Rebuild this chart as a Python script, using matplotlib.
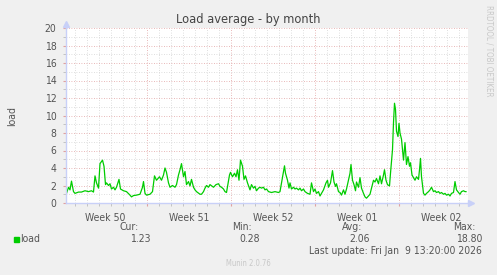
import matplotlib
matplotlib.use("Agg")
import matplotlib.pyplot as plt
from matplotlib.ticker import MultipleLocator, NullFormatter

# hours since Mon Dec 8 2025 00:00 (start of week 50)
hours = [7, 11, 14, 17, 21, 24, 31, 37, 44, 51, 57, 61, 64, 67, 71, 74, 79, 82, 85, 87,
         91, 94, 97, 101, 104, 107, 112, 115, 121, 127, 134, 137, 141, 147, 154, 159, 161, 164, 167, 174,
         179, 183, 187, 193, 197, 201, 204, 207, 211, 214, 219, 224, 227, 231, 234, 237, 241, 244, 247, 251,
         254, 257, 261, 264, 267, 274, 277, 281, 284, 287, 291, 294, 301, 306, 311, 314, 317, 321, 324, 327,
         333, 335, 339, 343, 346, 349, 352, 355, 359, 362, 365, 369, 372,
         374, 377, 381, 384, 387, 391, 394, 397, 401, 404, 407, 411, 417, 424, 431, 434, 437, 441, 443, 445,
         449, 452, 454, 457, 461, 464, 467, 471, 474, 477, 481, 484, 489, 494, 497, 501, 504, 507, 511, 514,
         517, 521, 526, 529, 531, 535, 539, 542, 545, 547, 551, 554, 557, 561, 564, 567, 571, 574, 576, 579,
         582, 585, 587, 591, 594, 597, 601, 604, 607, 611, 614, 617, 621, 624, 627, 631, 634, 637, 641, 643,
         646, 649, 653, 655, 659, 661, 663, 665, 667, 670, 672, 674, 677, 681, 684, 687, 690, 693, 695, 698,
         701, 704, 707, 711, 713, 715, 717, 721, 724, 727, 731, 734, 737, 741, 744, 747, 751, 754, 757, 761,
         764, 767, 771, 774, 777, 781, 784, 787, 791, 794, 797, 801, 804, 806]
load = [1.1, 1.8, 1.5, 2.5, 1.3, 1.1, 1.25, 1.25, 1.4, 1.3, 1.4, 1.25, 3.1, 2.3, 1.7, 4.5, 4.9, 4.2, 2.1, 2.3,
        2.0, 2.2, 1.6, 1.8, 1.5, 1.8, 2.7, 1.6, 1.4, 1.3, 0.9, 0.7, 0.85, 0.9, 1.0, 1.8, 2.45, 1.1, 0.9, 1.0,
        1.3, 3.1, 2.6, 3.0, 2.6, 3.2, 4.0, 3.5, 2.3, 1.8, 2.0, 1.8, 2.1, 3.2, 3.8, 4.5, 3.0, 3.6, 2.1, 2.45,
        1.95, 2.7, 1.8, 1.5, 1.3, 1.0, 1.0, 1.3, 1.7, 2.0, 1.8, 2.1, 1.8, 2.1, 2.2, 1.9, 1.8, 1.6, 1.3, 1.2,
        3.2, 3.5, 3.0, 3.4, 3.0, 3.8, 2.6, 4.9, 4.2, 2.7, 3.1, 2.3, 1.8,
        1.5, 2.1, 1.7, 1.9, 1.4, 1.7, 1.8, 1.7, 1.8, 1.5, 1.6, 1.3, 1.2, 1.3, 1.2, 1.3, 2.3, 3.6, 4.25, 3.4,
        2.6, 1.7, 2.3, 1.6, 1.8, 1.6, 1.7, 1.5, 1.7, 1.4, 1.6, 1.3, 1.1, 1.0, 2.3, 1.3, 1.6, 1.1, 1.3, 0.8,
        1.1, 1.5, 2.3, 2.6, 1.8, 2.3, 3.7, 2.4, 1.9, 2.2, 1.3, 1.2, 0.9, 1.5, 1.0, 1.6, 2.6, 3.4, 4.4, 2.6,
        2.1, 1.4, 2.4, 1.8, 2.9, 1.7, 1.1, 0.7, 0.55, 0.8, 1.0, 1.7, 2.6, 2.4, 2.8, 2.2, 3.1, 2.2, 3.2, 3.8,
        2.6, 2.1, 1.95, 3.4, 6.1, 9.2, 11.4, 10.7, 8.2, 7.6, 9.1, 8.0, 7.3, 4.9, 6.9, 4.4, 5.3, 4.2, 4.6, 3.2,
        2.9, 2.6, 3.0, 2.7, 3.8, 5.1, 3.0, 1.1, 0.9, 1.1, 1.3, 1.5, 1.8, 1.3, 1.4, 1.2, 1.3, 1.1, 1.2, 1.0,
        1.1, 0.9, 1.0, 0.8, 1.1, 1.2, 2.45, 1.5, 1.2, 1.0, 1.3, 1.4, 1.3, 1.3]

week_labels = ["Week 50", "Week 51", "Week 52", "Week 01", "Week 02"]
stat_names = ["Cur:", "Min:", "Avg:", "Max:"]
stat_values = ["1.23", "0.28", "2.06", "18.80"]

plt.rcParams["font.family"] = ["DejaVu Sans"]
plt.rcParams["font.stretch"] = "condensed"

bg = "#f0f0f0"
axis_col = "#c8d0f8"
txt = "#555555"
fs = 7.5

fig = plt.figure(figsize=(4.97, 2.75), dpi=100, facecolor=bg)
W, H = 497, 275
ax = fig.add_axes([66 / W, 72 / H, 402 / W, 175 / H])
ax.set_facecolor("white")

ax.plot(hours, load, color="#00cc00", lw=0.9)

ax.set_xlim(6, 810)
ax.set_ylim(0, 20)

# grid: minor gray every day / unit, major red every week / 2 units
ax.xaxis.set_major_locator(MultipleLocator(168))
ax.xaxis.set_minor_locator(MultipleLocator(24))
ax.yaxis.set_major_locator(MultipleLocator(2))
ax.yaxis.set_minor_locator(MultipleLocator(1))
ax.grid(which="minor", color="#d4d4d4", ls=(0, (1, 2)), lw=0.6)
ax.grid(which="major", color="#e0a0a0", ls=(0, (1, 2)), lw=0.6)
ax.set_axisbelow(True)

ax.xaxis.set_major_formatter(NullFormatter())
ax.tick_params(axis="x", which="major", length=2, color="#e0a0a0", labelsize=0)
ax.tick_params(axis="x", which="minor", length=2, color="#bbbbbb")
ax.tick_params(axis="y", which="major", length=2, color="#e0a0a0", labelsize=fs,
               labelcolor=txt, pad=5)
ax.tick_params(axis="y", which="minor", length=2, color="#bbbbbb")

# week labels centred in each week
for i, lab in enumerate(week_labels):
    ax.text(84 + 168 * i, -0.055, lab, transform=ax.get_xaxis_transform(),
            ha="center", va="top", fontsize=fs, color=txt)

for s in ["top", "right"]:
    ax.spines[s].set_visible(False)
for s in ["left", "bottom"]:
    ax.spines[s].set_color(axis_col)
    ax.spines[s].set_linewidth(1)

# arrows at the ends of the axes
ax.plot([0, 0], [1, 1 + 4 / 175], color=axis_col, lw=1, transform=ax.transAxes, clip_on=False)
ax.plot([0], [1 + 4 / 175], marker="^", ms=4, color=axis_col, transform=ax.transAxes, clip_on=False)
ax.plot([1, 1 + 3 / 402], [0, 0], color=axis_col, lw=1, transform=ax.transAxes, clip_on=False)
ax.plot([1 + 3 / 402], [0], marker=">", ms=4, color=axis_col, transform=ax.transAxes, clip_on=False)

ax.set_ylabel("load", fontsize=fs, color=txt, labelpad=20)

fig.text(248 / W, 1 - 20 / H, "Load average - by month", ha="center", va="center",
         fontsize=9.2, color="#444444")
fig.text(489 / W, 1 - 51 / H, "RRDTOOL / TOBI OETIKER", rotation=270, ha="center", va="center",
         fontsize=5.7, color="#c8c8c8")

# legend rows
name_right = [139, 252, 362, 476]
value_right = [151, 260, 370, 482]
for n, v, xn, xv in zip(stat_names, stat_values, name_right, value_right):
    fig.text(xn / W, 1 - 227 / H, n, ha="right", va="center", fontsize=fs, color=txt)
    fig.text(xv / W, 1 - 239 / H, v, ha="right", va="center", fontsize=fs, color=txt)
fig.patches.append(plt.Rectangle((14 / W, 1 - 242 / H), 5 / W, 5 / H, color="#00cc00",
                                 transform=fig.transFigure, figure=fig))
fig.text(20 / W, 1 - 239 / H, "load", ha="left", va="center", fontsize=fs, color=txt)
fig.text(482 / W, 1 - 251 / H, "Last update: Fri Jan  9 13:20:00 2026", ha="right", va="center",
         fontsize=fs, color=txt)
fig.text(248 / W, 1 - 263 / H, "Munin 2.0.76", ha="center", va="center", fontsize=5.5, color="#c8c8c8")

fig.savefig("out.png", dpi=100, facecolor=bg)
